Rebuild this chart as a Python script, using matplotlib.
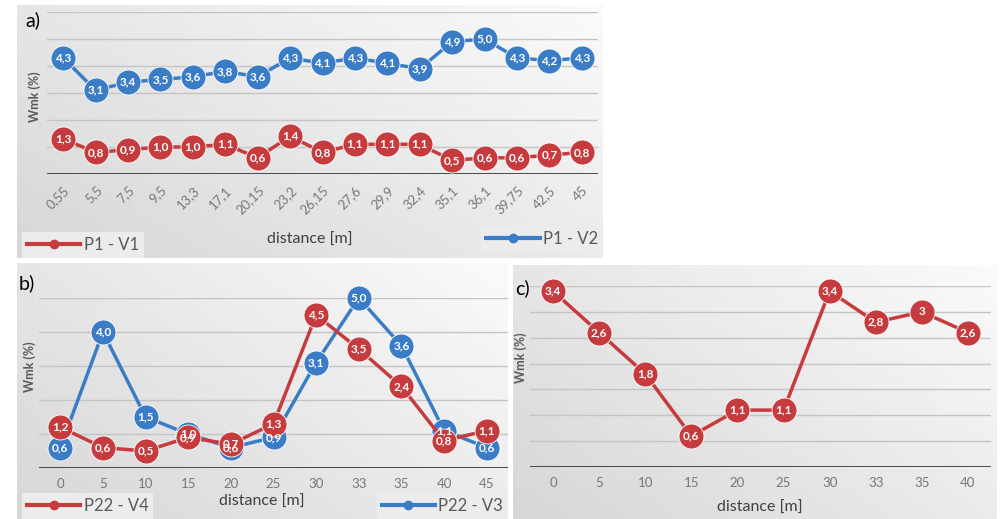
import numpy as np
import matplotlib
matplotlib.use("Agg")
import matplotlib.pyplot as plt
from matplotlib.lines import Line2D

plt.rcParams['font.family'] = ['Lato', 'DejaVu Sans']

# panel a
dist_a = ['0,55', '5,5', '7,5', '9,5', '13,3', '17,1', '20,15', '23,2', '26,15',
          '27,6', '29,9', '32,4', '35,1', '36,1', '39,75', '42,5', '45']
p1_v1 = [1.3, 0.8, 0.9, 1.0, 1.0, 1.1, 0.6, 1.4, 0.8, 1.1, 1.1, 1.1, 0.5, 0.6, 0.6, 0.7, 0.8]
p1_v2 = [4.3, 3.1, 3.4, 3.5, 3.6, 3.8, 3.6, 4.3, 4.1, 4.3, 4.1, 3.9, 4.9, 5.0, 4.3, 4.2, 4.3]

# panel b
dist_b = ['0', '5', '10', '15', '20', '25', '30', '33', '35', '40', '45']
p22_v4 = [1.2, 0.6, 0.5, 0.9, 0.7, 1.3, 4.5, 3.5, 2.4, 0.8, 1.1]
p22_v3 = [0.6, 4.0, 1.5, 1.0, 0.6, 0.9, 3.1, 5.0, 3.6, 1.1, 0.6]

# panel c
dist_c = ['0', '5', '10', '15', '20', '25', '30', '33', '35', '40']
wmk_c = [3.4, 2.6, 1.8, 0.6, 1.1, 1.1, 3.4, 2.8, 3.0, 2.6]
lab_c = ['3,4', '2,6', '1,8', '0,6', '1,1', '1,1', '3,4', '2,8', '3', '2,6']

RED = '#c63b3d'
BLUE = '#3b7cc6'
W, H = 1002, 519

fig = plt.figure(figsize=(W / 100, H / 100), dpi=100)


def px(x0, y0, x1, y1):
    # pixel box (top-left origin) -> figure rect
    return [x0 / W, 1 - y1 / H, (x1 - x0) / W, (y1 - y0) / H]


def panel_bg(rect):
    bg = fig.add_axes(rect, zorder=0)
    gx, gy = np.meshgrid(np.linspace(0, 1, 200), np.linspace(0, 1, 100))
    g = 0.84 + 0.08 * gx + 0.06 * gy
    bg.imshow(g, cmap='gray', vmin=0, vmax=1, aspect='auto', origin='lower',
              extent=[0, 1, 0, 1])
    bg.axis('off')


def series(ax, vals, color, labels=None):
    x = np.arange(len(vals))
    ax.plot(x, vals, color=color, lw=2.5, marker='o', ms=18,
            mec='white', mew=0.6, clip_on=False, zorder=3)
    if labels is None:
        labels = [f'{v:.1f}'.replace('.', ',') for v in vals]
    for xi, v, t in zip(x, vals, labels):
        ax.text(xi, v, t, color='white', fontsize=8.5, fontweight='bold',
                ha='center', va='center', zorder=10, clip_on=False)


def style(ax, n, ymax, step):
    ax.set_facecolor('none')
    ax.set_xlim(-0.5, n - 0.5)
    ax.set_ylim(0, ymax)
    for s in ax.spines.values():
        s.set_visible(False)
    ax.set_yticks([])
    for yv in np.arange(step, ymax + 0.001, step):
        ax.axhline(yv, color='#c4c4c4', lw=1, zorder=1)
    ax.axhline(0, color='#3a3a3a', lw=2, zorder=2)
    ax.tick_params(axis='x', length=0, colors='#777777', labelsize=9.5, pad=7)


# ---- a)
panel_bg(px(17, 5, 603, 258))
ax = fig.add_axes(px(47, 12, 598, 174), zorder=2)
style(ax, len(dist_a), 6, 1)
series(ax, p1_v2, BLUE)
series(ax, p1_v1, RED)
ax.set_xticks(np.arange(len(dist_a)))
ax.set_xticklabels(dist_a, rotation=45, ha='right', rotation_mode='anchor')
fig.text(25 / W, 1 - 20 / H, 'a)', fontsize=14, va='center')
fig.text(310 / W, 1 - 240 / H, 'distance [m]', fontsize=11.5, color='#404040',
         ha='center', va='center')
fig.text(35 / W, 1 - 97 / H, 'Wmk (%)', fontsize=9, fontweight='bold',
         color='#595959', rotation=90, ha='center', va='center')

# ---- b)
panel_bg(px(17, 263, 508, 519))
bx = fig.add_axes(px(39, 298, 508, 468), zorder=2)
style(bx, len(dist_b), 5, 1)
series(bx, p22_v3, BLUE)
series(bx, p22_v4, RED)
bx.set_xticks(np.arange(len(dist_b)))
bx.set_xticklabels(dist_b)
fig.text(19 / W, 1 - 283 / H, 'b)', fontsize=14, va='center')
fig.text(262 / W, 1 - 502 / H, 'distance [m]', fontsize=11.5, color='#404040',
         ha='center', va='center')
fig.text(30 / W, 1 - 367 / H, 'Wmk (%)', fontsize=9, fontweight='bold',
         color='#595959', rotation=90, ha='center', va='center')

# ---- c)
panel_bg(px(513, 265, 996, 519))
cx = fig.add_axes(px(530, 286, 991, 467), zorder=2)
style(cx, len(dist_c), 3.5, 0.5)
series(cx, wmk_c, RED, lab_c)
cx.set_xticks(np.arange(len(dist_c)))
cx.set_xticklabels(dist_c)
fig.text(515 / W, 1 - 288 / H, 'c)', fontsize=14, va='center')
fig.text(760 / W, 1 - 508 / H, 'distance [m]', fontsize=11.5, color='#404040',
         ha='center', va='center')
fig.text(521 / W, 1 - 358 / H, 'Wmk (%)', fontsize=9, fontweight='bold',
         color='#595959', rotation=90, ha='center', va='center')


def leg(axis, name, color, anchor, loc):
    h = Line2D([], [], color=color, lw=3, marker='o', ms=6)
    lg = axis.legend([h], [name], loc=loc, bbox_to_anchor=anchor,
                     bbox_transform=fig.transFigure, fontsize=12,
                     handlelength=3.2, frameon=True, fancybox=False,
                     facecolor='#ececec', edgecolor='none', framealpha=1,
                     borderpad=0.3, handletextpad=0.2, borderaxespad=0)
    for t in lg.get_texts():
        t.set_color('#595959')
    axis.add_artist(lg)


leg(ax, 'P1 - V1', RED, (22 / W, 1 - 258 / H), 'lower left')
leg(ax, 'P1 - V2', BLUE, (603 / W, 1 - 252 / H), 'lower right')
leg(bx, 'P22 - V4', RED, (22 / W, 0), 'lower left')
leg(bx, 'P22 - V3', BLUE, (508 / W, 0), 'lower right')

fig.savefig('out.png', dpi=100, facecolor='white')
